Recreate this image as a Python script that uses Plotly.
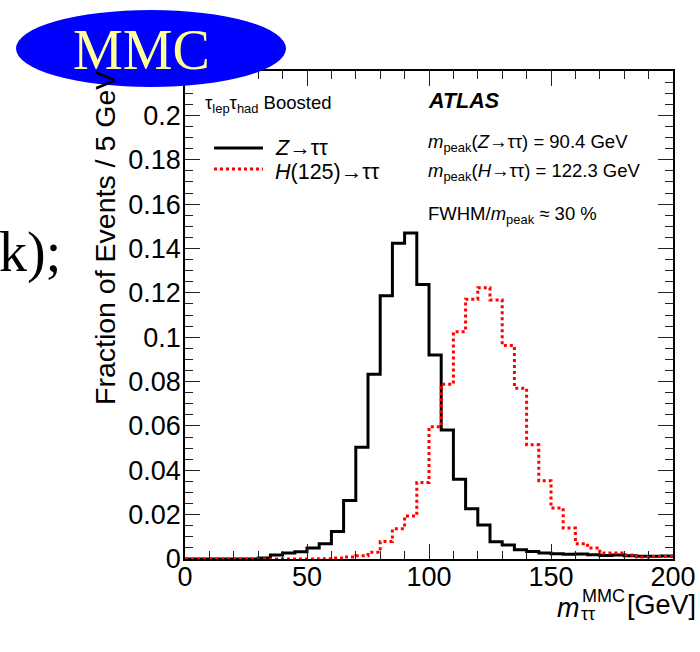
import plotly.graph_objects as go

# ---------------- data ----------------
bin_edges = [5 * i for i in range(41)]  # 0..200 GeV, 5 GeV bins
z_frac = [0, 0, 0, 0, 0, 0, 0.0004, 0.0018, 0.0027, 0.0033,
          0.0050, 0.0069, 0.0124, 0.0264, 0.0504, 0.0833, 0.1187, 0.1423, 0.1470, 0.1237,
          0.0920, 0.0582, 0.0360, 0.0227, 0.0153, 0.0078, 0.0063, 0.0042, 0.0034, 0.0027,
          0.0024, 0.0021, 0.0022, 0.0019, 0.0016, 0.0018, 0.0015, 0.0012, 0.0012, 0.0013]
h_frac = [0, 0, 0, 0, 0, 0, 0, 0, 0, 0,
          0, 0.0001, 0.0004, 0.0009, 0.0015, 0.0030, 0.0079, 0.0136, 0.0194, 0.0345,
          0.0596, 0.0788, 0.1025, 0.1171, 0.1223, 0.1168, 0.0962, 0.0770, 0.0515, 0.0353,
          0.0230, 0.0140, 0.0069, 0.0050, 0.0027, 0.0027, 0.0018, 0.0009, 0.0011, 0.0011]
z_label = "<i>Z</i>→ττ"
h_label = "<i>H</i>(125)→ττ"
x_ticks = [0, 50, 100, 150, 200]

# ---------------- geometry helpers ----------------
W, H = 700, 652
L, R, T, B = 185, 673, 71, 559
PW, PH = R - L, B - T


def px(x):
    return (x - L) / PW


def py(y):
    return (B - y) / PH


FONT = "Liberation Sans, Arial, Helvetica, sans-serif"
SERIF = "Liberation Serif, Times New Roman, serif"

fig = go.Figure()

# histograms as step lines
fig.add_trace(go.Scatter(x=bin_edges, y=z_frac + [z_frac[-1]], mode="lines",
                         line=dict(shape="hv", color="black", width=3),
                         name="Z→ττ", showlegend=False, hoverinfo="skip"))
fig.add_trace(go.Scatter(x=bin_edges, y=h_frac + [h_frac[-1]], mode="lines",
                         line=dict(shape="hv", color="#ff0000", width=3, dash="dot"),
                         name="H(125)→ττ", showlegend=False, hoverinfo="skip"))

annotations = []


def ann(text, x, y, size, xanchor="left", yanchor="middle", color="black",
        family=FONT, angle=0):
    annotations.append(dict(text=text, x=px(x), y=py(y), xref="paper", yref="paper",
                            xanchor=xanchor, yanchor=yanchor, showarrow=False,
                            textangle=angle,
                            font=dict(size=size, color=color, family=family)))


# labels in the frame
ann("τ<sub>lep</sub>τ<sub>had</sub> Boosted", 203, 104, 18.5)
ann(z_label, 273, 148, 21.5)
ann(h_label, 273, 172, 21.5)
ann("<b><i>ATLAS</i></b>", 426, 101, 21.5)
ann("<i>m</i><sub>peak</sub>(<i>Z</i>→ττ) = 90.4 GeV", 426, 143, 18.5)
ann("<i>m</i><sub>peak</sub>(<i>H</i>→ττ) = 122.3 GeV", 426, 172, 18.5)
ann("FWHM/<i>m</i><sub>peak</sub> ≈ 30 %", 426, 215, 18.5)

# axis titles
ann("Fraction of Events / 5 GeV", 105, 407, 28.5, xanchor="center", yanchor="bottom", angle=-90)
ann("<i>m</i>", 555, 608, 27)
ann("MMC", 580, 596, 18)
ann("ττ", 579, 614, 18)
ann("[GeV]", 698, 605, 27, xanchor="right")

# stray text and MMC badge
ann("k);", 63, 252, 56, xanchor="right", family=SERIF)
ann("MMC", 141, 50, 56, xanchor="center", color="#ffff99", family=SERIF)

shapes = [
    dict(type="line", xref="paper", yref="paper", x0=px(214), x1=px(263), y0=py(148), y1=py(148),
         line=dict(color="black", width=3)),
    dict(type="line", xref="paper", yref="paper", x0=px(214), x1=px(263), y0=py(169), y1=py(169),
         line=dict(color="#ff0000", width=3, dash="dot")),
    dict(type="circle", xref="paper", yref="paper", x0=px(16), x1=px(286), y0=py(87), y1=py(10),
         fillcolor="#0000ff", line=dict(width=0), layer="above"),
]

axis_common = dict(showline=True, mirror="allticks", linecolor="black", linewidth=1.5,
                   ticks="inside", ticklen=15, tickwidth=1.3, tickcolor="#222",
                   showgrid=False, zeroline=False, automargin=False,
                   tickfont=dict(size=27, family=FONT, color="black"))

fig.update_layout(
    template="none",
    width=W, height=H,
    margin=dict(l=L, r=W - R, t=T, b=H - B, pad=0, autoexpand=False),
    paper_bgcolor="white", plot_bgcolor="white",
    showlegend=False,
    xaxis=dict(range=[0, 200], tickmode="array", tickvals=x_ticks, ticklabelstandoff=-7,
               minor=dict(ticks="inside", ticklen=8, dtick=10, tickcolor="#222", tickwidth=1.3),
               **axis_common),
    yaxis=dict(range=[0, 0.22], dtick=0.02, tick0=0, ticklabelstandoff=-3,
               minor=dict(ticks="inside", ticklen=8, dtick=0.005, tickcolor="#222", tickwidth=1.3),
               **axis_common),
    annotations=annotations,
    shapes=shapes,
)

fig.write_html("out.html")
